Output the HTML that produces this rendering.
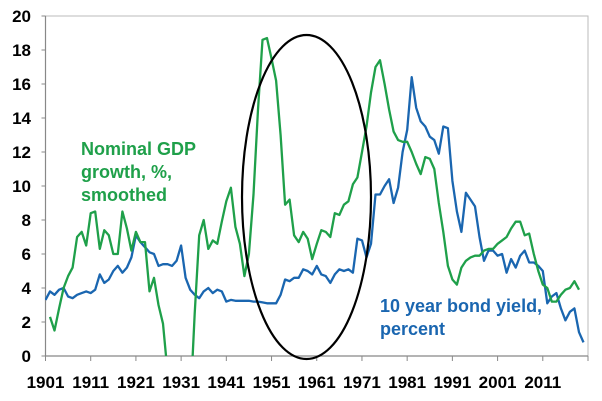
<!DOCTYPE html>
<html><head><meta charset="utf-8"><style>
html,body{margin:0;padding:0;background:#fff;overflow:hidden;width:602px;height:401px;}
svg{display:block;font-family:"Liberation Sans",sans-serif;}
</style></head><body>
<svg id="chart" width="602" height="401">
<defs><clipPath id="plotclip"><rect x="45" y="10" width="544" height="346"/></clipPath></defs>
<g id="axes"></g>
<g id="series" clip-path="url(#plotclip)"></g>
<ellipse cx="306.5" cy="197" rx="64.5" ry="162" fill="none" stroke="#000" stroke-width="2.2"/>
<text fill="#1fa04a" font-weight="bold" font-size="18"><tspan x="81" y="155">Nominal GDP</tspan><tspan x="81" y="178">growth, %,</tspan><tspan x="81" y="201">smoothed</tspan></text>
<text fill="#1a66b0" font-weight="bold" font-size="18"><tspan x="380" y="312">10 year bond yield,</tspan><tspan x="380" y="335">percent</tspan></text>
</svg>
<script>
const yTicks=[0,2,4,6,8,10,12,14,16,18,20];
const xTickYears=[1901,1911,1921,1931,1941,1951,1961,1971,1981,1991,2001,2011];
const gdpStart=1902;
const gdpValues=[2.3,1.5,2.8,4.0,4.7,5.2,7.0,7.3,6.5,8.4,8.5,6.3,7.4,7.1,6.0,6.0,8.5,7.5,6.2,7.3,6.7,6.7,3.8,4.6,3.0,1.9,-1,-5,-5,-5,-5,-3,2.5,7.1,8.0,6.3,6.8,6.6,7.9,9.1,9.9,7.6,6.6,4.7,6.0,9.5,14.5,18.6,18.7,17.5,16.2,13.0,8.9,9.2,7.1,6.7,7.3,6.9,5.7,6.6,7.4,7.3,7.0,8.4,8.3,8.9,9.1,10.1,10.5,12.0,13.5,15.5,17.0,17.4,16.0,14.5,13.2,12.7,12.6,12.6,12.0,11.3,10.7,11.7,11.6,11.0,9.0,7.3,5.3,4.5,4.2,5.2,5.6,5.8,5.9,5.9,6.2,6.3,6.3,6.6,6.8,7.0,7.5,7.9,7.9,7.1,7.2,6.0,5.0,4.2,4.0,3.2,3.2,3.6,3.9,4.0,4.4,3.9];
const bondStart=1901;
const bondValues=[3.3,3.8,3.6,3.9,4.0,3.5,3.4,3.6,3.7,3.8,3.7,3.9,4.8,4.3,4.5,5.0,5.3,4.9,5.2,5.8,7.1,6.7,6.4,6.1,6.0,5.3,5.4,5.4,5.3,5.6,6.5,4.6,3.9,3.6,3.4,3.8,4.0,3.7,3.9,3.8,3.2,3.3,3.25,3.25,3.25,3.25,3.2,3.2,3.15,3.1,3.1,3.1,3.6,4.5,4.4,4.6,4.6,5.1,5.0,4.8,5.3,4.8,4.7,4.3,4.8,5.1,5.0,5.1,4.9,6.9,6.8,5.8,6.6,9.5,9.5,10.0,10.4,9.0,9.9,12.0,13.3,16.4,14.6,13.8,13.5,12.9,12.7,11.9,13.5,13.4,10.3,8.5,7.3,9.6,9.2,8.8,7.0,5.6,6.2,6.2,5.9,6.0,4.9,5.7,5.2,5.9,6.2,5.5,5.5,5.3,5.0,3.1,3.5,3.7,2.8,2.1,2.6,2.8,1.4,0.8];
const NS='http://www.w3.org/2000/svg';
const x0=45.5,x1=588,yr0=1901,yr1=2021,yb=356,yt=16;
const xs=y=>x0+(y-yr0)*(x1-x0)/(yr1-yr0);
const ys=v=>yb-v*(yb-yt)/20;
const axes=document.getElementById('axes'),series=document.getElementById('series');
function mk(t,a,p){const e=document.createElementNS(NS,t);for(const k in a)e.setAttribute(k,a[k]);p.appendChild(e);return e;}
const frame=mk('rect',{x:x0,y:yt,width:x1-x0,height:yb-yt,fill:'none',stroke:'#bbb','stroke-width':1},axes);


const yax=mk('line',{x1:x0,x2:x0,y1:yt,y2:yb,stroke:'#888','stroke-width':1.2},axes);


const xax=mk('line',{x1:x0,x2:x1,y1:yb,y2:yb,stroke:'#888','stroke-width':1.2},axes);


yTicks.forEach(v=>{
  mk('line',{x1:x0-4,x2:x0,y1:ys(v),y2:ys(v),stroke:'#888'},axes);
  const t=mk('text',{x:31,y:ys(v)+6,'text-anchor':'end','font-size':17,'font-weight':'bold',fill:'#000'},axes);
  t.textContent=v;
  
  
});
xTickYears.concat([2021]).forEach(y=>{mk('line',{x1:xs(y),x2:xs(y),y1:yb,y2:yb+5,stroke:'#888'},axes);});
xTickYears.forEach(y=>{
  const t=mk('text',{x:xs(y),y:388,'text-anchor':'middle','font-size':17,'font-weight':'bold',fill:'#000'},axes);
  t.textContent=y;
  
  
});
function line(vals,start,color,name){
  const d=vals.map((v,i)=>(i?'L':'M')+xs(start+i).toFixed(1)+','+ys(v).toFixed(1)).join('');
  const p=mk('path',{d:d,fill:'none',stroke:color,'stroke-width':2.3,'stroke-linejoin':'round'},series);
  
  
}
line(bondValues,bondStart,'#1a66b0','bond-yield-line');
line(gdpValues,gdpStart,'#1fa04a','gdp-growth-line');
</script>
</body></html>
